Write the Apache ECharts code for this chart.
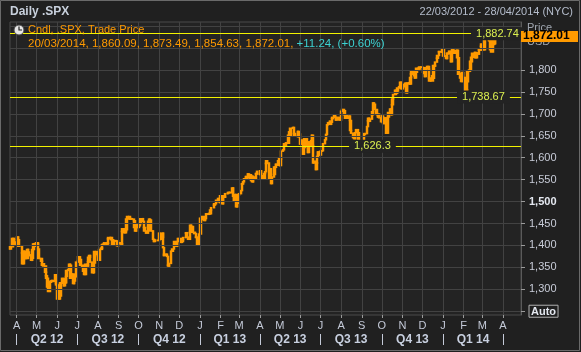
<!DOCTYPE html>
<html>
<head>
<meta charset="utf-8">
<title>Daily .SPX</title>
<script src="https://cdn.jsdelivr.net/npm/echarts@6/dist/echarts.min.js"></script>
<style>
html, body { margin: 0; padding: 0; background: #202020; }
#chart { width: 581px; height: 352px; }
</style>
</head>
<body>
<div id="chart"></div>
<script>
// .SPX daily closes, one array per month
var c2012_03 = [1392, 1397, 1416, 1413, 1405, 1403, 1408];
var c2012_04 = [1419, 1413, 1398, 1398, 1383, 1358, 1368, 1387, 1370, 1370, 1391, 1385, 1377, 1378, 1366, 1371, 1391, 1403, 1404, 1398];
var c2012_05 = [1406, 1403, 1392, 1370, 1370, 1364, 1355, 1358, 1353, 1339, 1331, 1325, 1305, 1295, 1316, 1318, 1319, 1320, 1318, 1333, 1313, 1310];
var c2012_06 = [1278, 1278, 1285, 1315, 1314, 1325, 1308, 1324, 1315, 1329, 1343, 1345, 1357, 1355, 1325, 1335, 1313, 1319, 1331, 1329, 1362];
var c2012_07 = [1365, 1374, 1368, 1355, 1352, 1341, 1341, 1334, 1357, 1353, 1363, 1373, 1377, 1362, 1350, 1338, 1338, 1360, 1386, 1385, 1379];
var c2012_08 = [1375, 1366, 1391, 1394, 1401, 1402, 1403, 1406, 1404, 1403, 1405, 1415, 1418, 1418, 1413, 1413, 1402, 1411, 1410, 1410, 1410, 1399, 1406];
var c2012_09 = [1404, 1403, 1432, 1438, 1429, 1433, 1436, 1460, 1466, 1462, 1460, 1461, 1460, 1460, 1456, 1441, 1433, 1447, 1441];
var c2012_10 = [1444, 1445, 1450, 1461, 1461, 1455, 1441, 1433, 1433, 1428, 1441, 1455, 1460, 1458, 1433, 1433, 1414, 1409, 1412, 1411, 1412];
var c2012_11 = [1428, 1414, 1418, 1428, 1395, 1377, 1380, 1380, 1375, 1355, 1353, 1359, 1387, 1387, 1392, 1409, 1406, 1398, 1409, 1415, 1416];
var c2012_12 = [1409, 1407, 1409, 1413, 1418, 1418, 1428, 1429, 1419, 1414, 1430, 1446, 1436, 1443, 1430, 1427, 1419, 1418, 1402, 1426];
var c2013_01 = [1462, 1459, 1466, 1462, 1457, 1461, 1472, 1472, 1471, 1473, 1472, 1481, 1486, 1492, 1495, 1495, 1503, 1500, 1507, 1502, 1498];
var c2013_02 = [1513, 1495, 1511, 1512, 1510, 1518, 1518, 1520, 1521, 1521, 1520, 1531, 1512, 1502, 1516, 1488, 1496, 1515, 1515];
var c2013_03 = [1518, 1525, 1540, 1541, 1545, 1552, 1557, 1552, 1554, 1563, 1561, 1552, 1548, 1558, 1545, 1556, 1552, 1564, 1563, 1569];
var c2013_04 = [1562, 1570, 1553, 1559, 1553, 1564, 1568, 1587, 1593, 1588, 1552, 1575, 1552, 1541, 1556, 1562, 1579, 1578, 1585, 1583, 1593, 1598];
var c2013_05 = [1582, 1597, 1615, 1618, 1626, 1632, 1627, 1634, 1633, 1651, 1659, 1650, 1667, 1667, 1669, 1655, 1650, 1649, 1660, 1648, 1654, 1631];
var c2013_06 = [1640, 1631, 1608, 1623, 1643, 1643, 1626, 1612, 1636, 1626, 1639, 1651, 1628, 1588, 1592, 1573, 1588, 1603, 1613, 1606];
var c2013_07 = [1615, 1615, 1616, 1632, 1641, 1653, 1653, 1675, 1680, 1683, 1676, 1681, 1689, 1692, 1696, 1692, 1686, 1690, 1692, 1686, 1686, 1686];
var c2013_08 = [1706, 1710, 1707, 1698, 1690, 1698, 1691, 1690, 1695, 1685, 1662, 1656, 1646, 1653, 1643, 1657, 1664, 1657, 1630, 1635, 1638, 1633];
var c2013_09 = [1640, 1653, 1655, 1655, 1671, 1684, 1690, 1683, 1688, 1698, 1705, 1725, 1722, 1710, 1701, 1698, 1693, 1699, 1691, 1682];
var c2013_10 = [1695, 1693, 1678, 1691, 1676, 1656, 1656, 1693, 1703, 1711, 1698, 1721, 1734, 1744, 1744, 1754, 1747, 1752, 1759, 1762, 1772, 1763, 1757];
var c2013_11 = [1762, 1767, 1763, 1770, 1748, 1770, 1771, 1768, 1783, 1791, 1798, 1791, 1787, 1782, 1795, 1804, 1802, 1802, 1807, 1806];
var c2013_12 = [1800, 1795, 1792, 1785, 1805, 1808, 1802, 1782, 1775, 1775, 1787, 1781, 1810, 1809, 1818, 1827, 1833, 1842, 1841, 1841, 1848];
var c2014_01 = [1832, 1831, 1826, 1838, 1837, 1838, 1843, 1819, 1838, 1848, 1845, 1838, 1844, 1845, 1828, 1790, 1782, 1792, 1774, 1794, 1783];
var c2014_02 = [1742, 1755, 1752, 1773, 1797, 1800, 1820, 1819, 1829, 1838, 1840, 1828, 1839, 1836, 1847, 1845, 1845, 1854, 1859];
var c2014_03 = [1846, 1874, 1874, 1877, 1878, 1877, 1867, 1868, 1846, 1841, 1858, 1872, 1860, 1872];

// first day each array starts on
var closeMonths = [
  ['2012-03-22', c2012_03], ['2012-04-01', c2012_04], ['2012-05-01', c2012_05], ['2012-06-01', c2012_06],
  ['2012-07-01', c2012_07], ['2012-08-01', c2012_08], ['2012-09-01', c2012_09], ['2012-10-01', c2012_10],
  ['2012-11-01', c2012_11], ['2012-12-01', c2012_12], ['2013-01-01', c2013_01], ['2013-02-01', c2013_02],
  ['2013-03-01', c2013_03], ['2013-04-01', c2013_04], ['2013-05-01', c2013_05], ['2013-06-01', c2013_06],
  ['2013-07-01', c2013_07], ['2013-08-01', c2013_08], ['2013-09-01', c2013_09], ['2013-10-01', c2013_10],
  ['2013-11-01', c2013_11], ['2013-12-01', c2013_12], ['2014-01-01', c2014_01], ['2014-02-01', c2014_02],
  ['2014-03-01', c2014_03]
];

// NYSE closed days in range
var holidays = ['2012-04-06', '2012-05-28', '2012-07-04', '2012-09-03', '2012-10-29', '2012-10-30', '2012-11-22',
  '2012-12-25', '2013-01-01', '2013-01-21', '2013-02-18', '2013-03-29', '2013-05-27', '2013-07-04', '2013-09-02',
  '2013-11-28', '2013-12-25', '2014-01-01', '2014-01-20', '2014-02-17'];

var rangeStart = '2012-03-22';
var rangeEnd = '2014-04-28';
var monthLetters = ['J', 'F', 'M', 'A', 'M', 'J', 'J', 'A', 'S', 'O', 'N', 'D'];
var quarterStarts = ['2012-04-01', '2012-07-01', '2012-10-01', '2013-01-01', '2013-04-01', '2013-07-01', '2013-10-01', '2014-01-01', '2014-04-01'];
var quarterLabels = ['Q2 12', 'Q3 12', 'Q4 12', 'Q1 13', 'Q2 13', 'Q3 13', 'Q4 13', 'Q1 14'];
var yTicks = [1250, 1300, 1350, 1400, 1450, 1500, 1550, 1600, 1650, 1700, 1750, 1800];
var yGrid = [1250, 1300, 1350, 1400, 1450, 1500, 1550, 1600, 1650, 1700, 1750, 1800, 1850, 1900];

// horizontal level lines and where their labels sit
var levels = [1882.74, 1738.67, 1626.3];
var levelLabelAt = ['2014-02-12', '2014-01-22', '2013-08-13'];

// last bar readout
var lastDate = '20/03/2014';
var lastOHLC = [1860.09, 1873.49, 1854.63, 1872.01];
var lastChange = 11.24;
var lastPct = 0.60;

var FONT = '"Liberation Sans", Arial, sans-serif';
var ORANGE = '#ff9a00';
var GRID = '#424242';

function day(s) { return Date.parse(s + 'T00:00:00Z'); }
function fmt(v) { return v.toLocaleString('en-US'); }
function fmt2(v) { return v.toLocaleString('en-US', { minimumFractionDigits: 2, maximumFractionDigits: 2 }); }

// open taken as previous close
function buildCandles() {
  var out = [], prev = null;
  closeMonths.forEach(function (m) {
    var d = new Date(day(m[0])), vals = m[1], i = 0, month = d.getUTCMonth();
    while (i < vals.length && d.getUTCMonth() === month) {
      var key = d.toISOString().slice(0, 10), wd = d.getUTCDay();
      if (wd !== 0 && wd !== 6 && holidays.indexOf(key) < 0) {
        var c = vals[i++], o = prev == null ? c : prev;
        out.push([d.getTime(), o, c, Math.min(o, c), Math.max(o, c)]);
        prev = c;
      }
      d.setUTCDate(d.getUTCDate() + 1);
    }
  });
  return out;
}

var monthStarts = [];
(function () {
  var d = new Date(day('2012-04-01'));
  while (d.getTime() <= day(rangeEnd)) {
    monthStarts.push(d.getTime());
    d.setUTCMonth(d.getUTCMonth() + 1);
  }
})();
var qStarts = quarterStarts.map(day);
var qMids = quarterLabels.map(function (q, i) { return (qStarts[i] + qStarts[i + 1]) / 2; });

var candles = buildCandles();
var chart = echarts.init(document.getElementById('chart'));

var xMin = day(rangeStart), xMax = day(rangeEnd);
// grid lines as two-point segments in data space
var gridLines = monthStarts.map(function (v) { return [{ coord: [v, 1241.4] }, { coord: [v, 1909.4] }]; })
  .concat(yGrid.map(function (v) { return [{ coord: [xMin, v] }, { coord: [xMax, v] }]; }));

var option = {
  backgroundColor: '#202020',
  animation: false,
  textStyle: { fontFamily: FONT },
  grid: { left: 10, right: 60, top: 22, bottom: 37, show: true, backgroundColor: '#232323', borderColor: '#4a4a4a', borderWidth: 1 },
  xAxis: [{
    type: 'value', min: xMin, max: xMax,
    axisLine: { show: false },
    axisTick: { show: true, customValues: monthStarts, length: 3, lineStyle: { color: '#9a9a9a' } },
    axisLabel: {
      customValues: monthStarts, margin: 5, fontSize: 11, color: '#c4cad8',
      formatter: function (v) { return monthLetters[new Date(v).getUTCMonth()]; }
    },
    splitLine: { show: false }
  }, {
    type: 'value', min: xMin, max: xMax, position: 'bottom', offset: 19,
    axisLine: { show: false },
    axisTick: { show: true, customValues: qStarts, length: 11, lineStyle: { color: '#c4cad8' } },
    axisLabel: {
      customValues: qMids, margin: 0, fontSize: 12, fontWeight: 'bold', color: '#c8d0e0',
      formatter: function (v) {
        var i = qMids.indexOf(v);
        return i < 0 ? '' : quarterLabels[i];
      }
    },
    splitLine: { show: false }
  }],
  yAxis: {
    type: 'value', position: 'right', min: 1241.4, max: 1909.4, scale: true,
    axisLine: { show: true, lineStyle: { color: '#5a5a5a' } },
    axisTick: { show: true, customValues: yTicks, length: 4, lineStyle: { color: '#9a9a9a' } },
    axisLabel: {
      customValues: yTicks, margin: 8, fontSize: 11, color: '#c8ccd8',
      formatter: function (v) {
        if (v === 1250) return '{auto|Auto}';
        if (v === 1500) return '{b|' + fmt(v) + '}';
        return fmt(v);
      },
      rich: {
        auto: { color: '#e4e8f0', fontWeight: 'bold', fontSize: 11, borderColor: '#b0b0b0', borderWidth: 1, padding: [1, 2, 0, 2] },
        b: { color: '#e4e8f0', fontWeight: 'bold', fontSize: 11 }
      }
    },
    splitLine: { show: false }
  },
  series: [{
    // carrier for the grid lines, drawn under the candles
    type: 'scatter', z: 2, silent: true, symbolSize: 0,
    data: [[xMin, 1500]],
    markLine: {
      silent: true, symbol: ['none', 'none'], animation: false,
      label: { show: false },
      lineStyle: { color: GRID, width: 1, type: 'solid', opacity: 1 },
      data: gridLines
    }
  }, {
    type: 'candlestick', z: 3,
    data: candles,
    encode: { x: 0, y: [1, 2, 3, 4] },
    barWidth: 2,
    itemStyle: { color: ORANGE, color0: ORANGE, borderColor: ORANGE, borderColor0: ORANGE, borderWidth: 1.5 },
    markLine: {
      silent: true, symbol: 'none', animation: false,
      label: { show: false },
      lineStyle: { color: '#f2f200', width: 1, type: 'solid' },
      data: levels.map(function (v) { return { yAxis: v }; })
    },
    markPoint: {
      silent: true, symbol: 'rect', symbolSize: 0, animation: false,
      data: levels.map(function (v, i) {
        return {
          coord: [day(levelLabelAt[i]), v],
          label: {
            show: true, position: 'right', distance: 0, formatter: fmt(v),
            color: '#dcf050', fontSize: 11, backgroundColor: '#232323', padding: [1, 5, 1, 5]
          }
        };
      })
    }
  }],
  graphic: [
    { type: 'rect', z: 1, silent: true, shape: { x: 0.5, y: 0.5, width: 579, height: 350 }, style: { fill: null, stroke: '#6a6a6a', lineWidth: 1 } },
    { type: 'text', z: 100, left: 10, top: 6, style: { text: 'Daily .SPX', fill: '#c8d0dc', font: 'bold 12px ' + FONT } },
    { type: 'text', z: 100, right: 8, top: 6, style: { text: '22/03/2012 - 28/04/2014 (NYC)', fill: '#b4bccb', font: '11px ' + FONT } },
    // clock icon
    { type: 'circle', z: 100, shape: { cx: 19, cy: 30, r: 5 }, style: { fill: '#e6e6e6', stroke: '#444', lineWidth: 1 } },
    { type: 'polyline', z: 101, shape: { points: [[19, 26.5], [19, 30], [22, 30]] }, style: { stroke: '#222', lineWidth: 1.2, fill: null } },
    { type: 'text', z: 100, left: 28, top: 24, style: { text: 'Cndl, .SPX, Trade Price', fill: ORANGE, font: '11px ' + FONT } },
    {
      type: 'text', z: 100, left: 28, top: 38,
      style: {
        text: '{o|' + lastDate + ', ' + lastOHLC.map(fmt2).join(', ') + ', }{c|+' + fmt2(lastChange) + ', (+' + lastPct.toFixed(2) + '%)}',
        font: '11.5px ' + FONT,
        rich: { o: { fill: ORANGE, fontSize: 11.5 }, c: { fill: '#3cd2d2', fontSize: 11.5 } }
      }
    },
    // price readout on the axis
    { type: 'text', z: 100, left: 527, top: 22, style: { text: 'Price', fill: '#a0a6b0', font: '11px ' + FONT } },
    { type: 'text', z: 100, left: 527, top: 36, style: { text: 'USD', fill: '#a0a6b0', font: '11px ' + FONT } },
    { type: 'rect', z: 110, shape: { x: 521, y: 31, width: 57, height: 11 }, style: { fill: ORANGE } },
    { type: 'text', z: 111, left: 523, top: 30, style: { text: fmt2(lastOHLC[3]), fill: '#000', font: 'bold 12px ' + FONT } }
  ]
};

chart.setOption(option);
</script>
</body>
</html>
